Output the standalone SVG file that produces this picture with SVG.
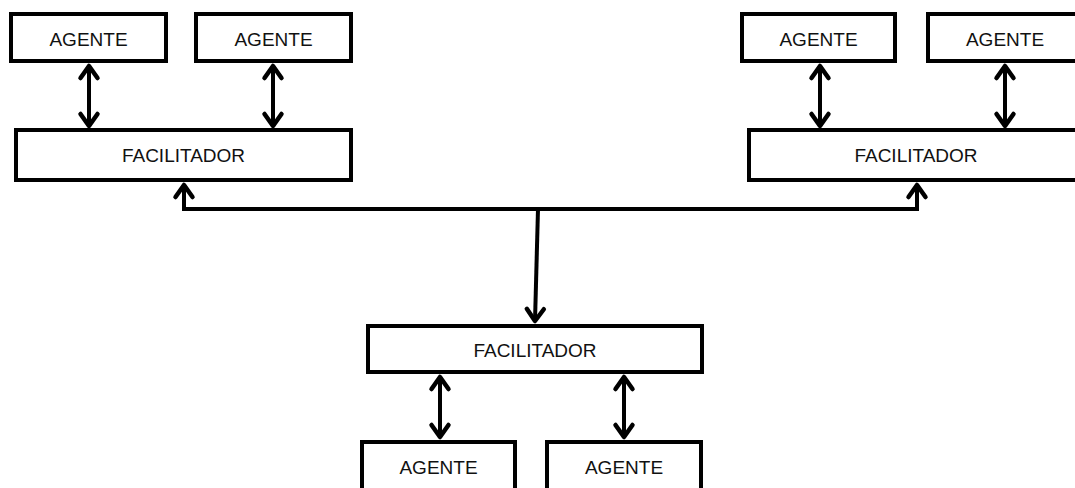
<svg xmlns="http://www.w3.org/2000/svg" width="1075" height="488" viewBox="0 0 1075 488">
<style>
.box{fill:#fff;stroke:#000;stroke-width:4}
.lbl{font-family:"Liberation Sans",Arial,sans-serif;font-size:19px;fill:#111;text-anchor:middle}
.con{fill:none;stroke:#000;stroke-width:4}
.arr{marker-start:url(#ah);marker-end:url(#ah)}
</style>
<defs>
<marker id="ah" markerUnits="userSpaceOnUse" viewBox="-20 -15 25 30" refX="0" refY="0" markerWidth="25" markerHeight="30" orient="auto-start-reverse" overflow="visible">
<path d="M-12,-8.5 L0,0 L-12,8.5" fill="none" stroke="#000" stroke-width="4.5" stroke-linecap="round" stroke-linejoin="round"/>
</marker>
</defs>
<rect width="1075" height="488" fill="#fff"/>
<g id="connectors">
<line class="con arr" x1="89" y1="66" x2="89" y2="126"/>
<line class="con arr" x1="273" y1="66" x2="273" y2="126"/>
<line class="con arr" x1="820" y1="66" x2="820" y2="126"/>
<line class="con arr" x1="1005" y1="66" x2="1005" y2="126"/>
<path class="con" d="M184,185 L184,209 L917,209 L917,185" marker-start="url(#ah)" marker-end="url(#ah)"/>
<path class="con" d="M538,209 L535,321" marker-end="url(#ah)"/>
<line class="con arr" x1="440" y1="377" x2="440" y2="437"/>
<line class="con arr" x1="624" y1="377" x2="624" y2="437"/>
</g>
<g id="agente1"><rect class="box" x="11" y="14" width="155" height="47"/><text class="lbl" x="88.5" y="46">AGENTE</text></g>
<g id="agente2"><rect class="box" x="196" y="14" width="155" height="47"/><text class="lbl" x="273.5" y="46">AGENTE</text></g>
<g id="facilitador1"><rect class="box" x="16" y="130" width="335" height="50"/><text class="lbl" x="183.5" y="162">FACILITADOR</text></g>
<g id="agente3"><rect class="box" x="742" y="14" width="153" height="47"/><text class="lbl" x="818.5" y="46">AGENTE</text></g>
<g id="agente4"><rect class="box" x="928" y="14" width="155" height="47"/><text class="lbl" x="1005" y="46">AGENTE</text></g>
<g id="facilitador2"><rect class="box" x="749" y="130" width="335" height="50"/><text class="lbl" x="916" y="162">FACILITADOR</text></g>
<g id="facilitador3"><rect class="box" x="368" y="326" width="334" height="46"/><text class="lbl" x="535" y="357">FACILITADOR</text></g>
<g id="agente5"><rect class="box" x="362" y="442" width="153" height="60"/><text class="lbl" x="438.5" y="474">AGENTE</text></g>
<g id="agente6"><rect class="box" x="547" y="442" width="154" height="60"/><text class="lbl" x="624" y="474">AGENTE</text></g>
</svg>
